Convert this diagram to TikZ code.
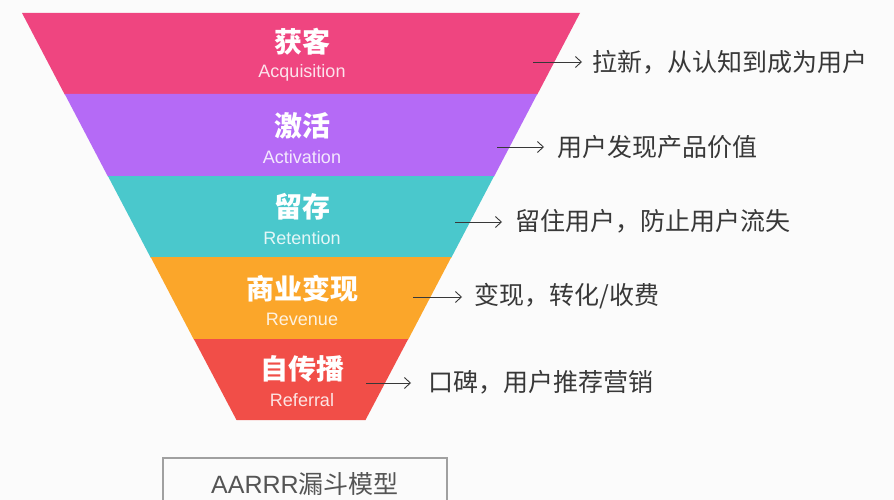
\documentclass[tikz,border=0pt]{standalone}
\usepackage{fontspec}
\newfontfamily\cjk{Noto Sans CJK SC}
\newfontfamily\lat{Liberation Sans}
\usetikzlibrary{arrows.meta}
\definecolor{bg}{HTML}{FBFBFB}
\definecolor{cA}{HTML}{EF4580}
\definecolor{cB}{HTML}{B56AF6}
\definecolor{cC}{HTML}{4AC8CC}
\definecolor{cD}{HTML}{FBA62A}
\definecolor{cE}{HTML}{F14E48}
\definecolor{txt}{HTML}{383838}
\definecolor{boxtxt}{HTML}{555555}
\definecolor{boxline}{HTML}{A0A0A0}
\tikzset{
  band/.style={draw=none},
  ttl/.style={text=white, inner sep=0pt, font={\fontsize{28}{30}\selectfont\cjk\bfseries}},
  sub/.style={text=white, text opacity=0.85, inner sep=0pt, font={\fontsize{18}{20}\selectfont\lat}},
  desc/.style={text=txt, anchor=west, inner sep=0pt, font={\fontsize{25}{28}\selectfont\cjk}},
  arr/.style={draw=txt, line width=0.9pt, -{Straight Barb[length=6pt,width=11pt]}},
  mbox/.style={draw=boxline, line width=1.2pt, fill=bg, minimum width=284pt, minimum height=52pt, inner sep=0pt, text=boxtxt}
}
\begin{document}
\begin{tikzpicture}[x=1pt,y=-1pt]
\fill[bg] (0,0) rectangle (894,500);
\useasboundingbox (0,0) rectangle (894,500);
\clip (0,0) rectangle (894,500);
% funnel bands
\fill[cA] (22,13) -- (580,13) -- (537.3,94.5) -- (64.7,94.5) -- cycle;
\fill[cB] (64.7,94) -- (537.3,94) -- (494.1,176.5) -- (107.9,176.5) -- cycle;
\fill[cC] (107.9,176) -- (494.1,176) -- (451.4,257.5) -- (150.6,257.5) -- cycle;
\fill[cD] (150.6,257) -- (451.4,257) -- (408.2,339.5) -- (193.8,339.5) -- cycle;
\fill[cE] (193.8,339) -- (408.2,339) -- (365.5,420) -- (236.5,420) -- cycle;
% titles
\node[ttl] (t1) at (302,42) {获客};
\node[sub] (s1) at (302,73) {Acquisition};
\node[ttl] (t2) at (302,126) {激活};
\node[sub] (s2) at (302,157) {Activation};
\node[ttl] (t3) at (302,207) {留存};
\node[sub] (s3) at (302,238) {Retention};
\node[ttl] (t4) at (302,289) {商业变现};
\node[sub] (s4) at (302,319) {Revenue};
\node[ttl] (t5) at (302,369) {自传播};
\node[sub] (s5) at (302,400) {Referral};
% descriptions
\node[desc] (d1) at (592,62) {拉新，从认知到成为用户};
\node[desc] (d2) at (557,147) {用户发现产品价值};
\node[desc] (d3) at (515,221) {留住用户，防止用户流失};
\node[desc] (d4) at (474,296) {变现，转化/收费};
\node[desc] (d5) at (428,382) {口碑，用户推荐营销};
\coordinate (a1) at (533,62);
\coordinate (a2) at (497,147);
\coordinate (a3) at (455,222);
\coordinate (a4) at (413,297);
\coordinate (a5) at (366,383);
\draw[arr, shorten >=10pt] (a1) -- (a1 -| d1.west);
\draw[arr, shorten >=13pt] (a2) -- (a2 -| d2.west);
\draw[arr, shorten >=13pt] (a3) -- (a3 -| d3.west);
\draw[arr, shorten >=12pt] (a4) -- (a4 -| d4.west);
\draw[arr, shorten >=17pt] (a5) -- (a5 -| d5.west);
% model box
\node[mbox] (m) at (305,484) {\fontsize{25}{28}\selectfont{\lat AARRR}{\cjk 漏斗模型}};
\end{tikzpicture}
\end{document}
